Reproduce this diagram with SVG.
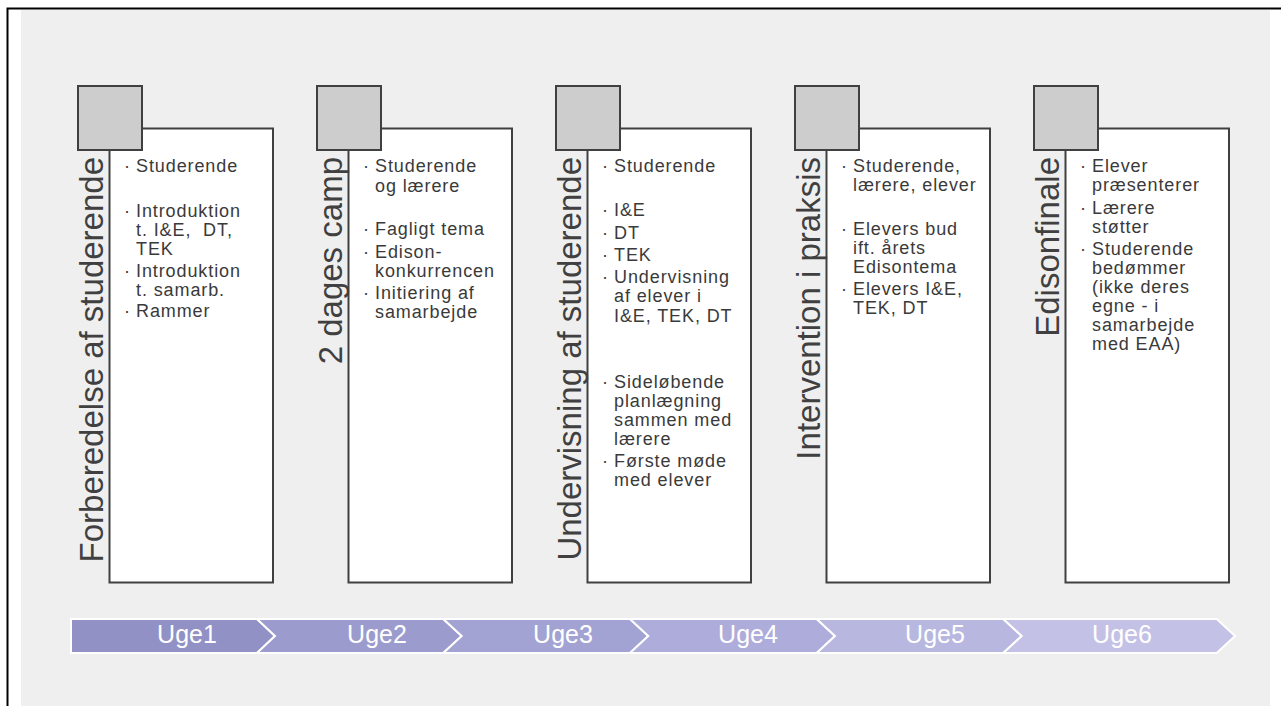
<svg xmlns="http://www.w3.org/2000/svg" width="1281" height="706" viewBox="0 0 1281 706">
<style>
.frame{fill:none;stroke:#000;stroke-width:2}
.sq{fill:#cdcdcd;stroke:#404040;stroke-width:2}
.box{fill:#fff;stroke:#404040;stroke-width:2}
.title{font-family:"Liberation Sans",Arial,sans-serif;font-size:33px;fill:#404040}
.t{font-family:"Liberation Sans",Arial,sans-serif;font-size:18px;letter-spacing:0.9px;fill:#3a3a3a;white-space:pre}
.chev{stroke:#fff;stroke-width:2;stroke-linejoin:miter}
.wk{font-family:"Liberation Sans",Arial,sans-serif;font-size:25px;fill:#fff;text-anchor:middle}
</style>
<rect x="0" y="0" width="1281" height="706" fill="#fff"/>
<rect x="21" y="10" width="1249" height="696" fill="#efefef"/>
<path class="frame" d="M7.5 706 V8.5 H1281"/>

<g id="col1">
<rect class="box" x="109.5" y="128.5" width="163.5" height="454"/>
<rect class="sq" x="78" y="86" width="64" height="64"/>
<text class="title" transform="translate(103,157) rotate(-90)" text-anchor="end">Forberedelse af studerende</text>
<text class="t" x="124" y="172">·</text><text class="t" x="136" y="172">Studerende</text>
<text class="t" x="124" y="217">·</text><text class="t" x="136" y="217">Introduktion</text>
<text class="t" x="136" y="236">t. I&amp;E,  DT,</text>
<text class="t" x="136" y="255">TEK</text>
<text class="t" x="124" y="277">·</text><text class="t" x="136" y="277">Introduktion</text>
<text class="t" x="136" y="295.5">t. samarb.</text>
<text class="t" x="124" y="317">·</text><text class="t" x="136" y="317">Rammer</text>
</g>

<g id="col2" transform="translate(239,0)">
<rect class="box" x="109.5" y="128.5" width="163.5" height="454"/>
<rect class="sq" x="78" y="86" width="64" height="64"/>
<text class="title" transform="translate(103,157) rotate(-90)" text-anchor="end">2 dages camp</text>
<text class="t" x="124" y="172">·</text><text class="t" x="136" y="172">Studerende</text>
<text class="t" x="136" y="191.5">og lærere</text>
<text class="t" x="124" y="235">·</text><text class="t" x="136" y="235">Fagligt tema</text>
<text class="t" x="124" y="257.5">·</text><text class="t" x="136" y="257.5">Edison-</text>
<text class="t" x="136" y="276.5">konkurrencen</text>
<text class="t" x="124" y="299">·</text><text class="t" x="136" y="299">Initiering af</text>
<text class="t" x="136" y="318">samarbejde</text>
</g>

<g id="col3" transform="translate(478,0)">
<rect class="box" x="109.5" y="128.5" width="163.5" height="454"/>
<rect class="sq" x="78" y="86" width="64" height="64"/>
<text class="title" transform="translate(103,157) rotate(-90)" text-anchor="end">Undervisning af studerende</text>
<text class="t" x="124" y="172">·</text><text class="t" x="136" y="172">Studerende</text>
<text class="t" x="124" y="216">·</text><text class="t" x="136" y="216">I&amp;E</text>
<text class="t" x="124" y="239">·</text><text class="t" x="136" y="239">DT</text>
<text class="t" x="124" y="261">·</text><text class="t" x="136" y="261">TEK</text>
<text class="t" x="124" y="283">·</text><text class="t" x="136" y="283">Undervisning</text>
<text class="t" x="136" y="302">af elever i</text>
<text class="t" x="136" y="322">I&amp;E, TEK, DT</text>
<text class="t" x="124" y="388">·</text><text class="t" x="136" y="388">Sideløbende</text>
<text class="t" x="136" y="407">planlægning</text>
<text class="t" x="136" y="426">sammen med</text>
<text class="t" x="136" y="445">lærere</text>
<text class="t" x="124" y="467">·</text><text class="t" x="136" y="467">Første møde</text>
<text class="t" x="136" y="486">med elever</text>
</g>

<g id="col4" transform="translate(717,0)">
<rect class="box" x="109.5" y="128.5" width="163.5" height="454"/>
<rect class="sq" x="78" y="86" width="64" height="64"/>
<text class="title" transform="translate(103,157) rotate(-90)" text-anchor="end">Intervention i praksis</text>
<text class="t" x="124" y="172">·</text><text class="t" x="136" y="172">Studerende,</text>
<text class="t" x="136" y="191">lærere, elever</text>
<text class="t" x="124" y="235">·</text><text class="t" x="136" y="235">Elevers bud</text>
<text class="t" x="136" y="254">ift. årets</text>
<text class="t" x="136" y="273">Edisontema</text>
<text class="t" x="124" y="295">·</text><text class="t" x="136" y="295">Elevers I&amp;E,</text>
<text class="t" x="136" y="314">TEK, DT</text>
</g>

<g id="col5" transform="translate(956,0)">
<rect class="box" x="109.5" y="128.5" width="163.5" height="454"/>
<rect class="sq" x="78" y="86" width="64" height="64"/>
<text class="title" transform="translate(103,157) rotate(-90)" text-anchor="end">Edisonfinale</text>
<text class="t" x="124" y="172">·</text><text class="t" x="136" y="172">Elever</text>
<text class="t" x="136" y="191">præsenterer</text>
<text class="t" x="124" y="213.5">·</text><text class="t" x="136" y="213.5">Lærere</text>
<text class="t" x="136" y="232.5">støtter</text>
<text class="t" x="124" y="255">·</text><text class="t" x="136" y="255">Studerende</text>
<text class="t" x="136" y="274">bedømmer</text>
<text class="t" x="136" y="293">(ikke deres</text>
<text class="t" x="136" y="312">egne - i</text>
<text class="t" x="136" y="331">samarbejde</text>
<text class="t" x="136" y="350">med EAA)</text>
</g>

<g id="timeline">
<g id="uge1"><polygon class="chev" fill="#9291c6" points="71,619 257,619 275,636 257,653 71,653"/><text class="wk" x="187" y="643">Uge1</text></g>
<g id="uge2"><polygon class="chev" fill="#9c9bcd" points="257,619 443.3,619 461.7,636 443.3,653 257,653 275,636"/><text class="wk" x="377" y="643">Uge2</text></g>
<g id="uge3"><polygon class="chev" fill="#a3a3d3" points="443.3,619 630,619 648.3,636 630,653 443.3,653 461.7,636"/><text class="wk" x="563" y="643">Uge3</text></g>
<g id="uge4"><polygon class="chev" fill="#adacda" points="630,619 816.7,619 835,636 816.7,653 630,653 648.3,636"/><text class="wk" x="748" y="643">Uge4</text></g>
<g id="uge5"><polygon class="chev" fill="#b8b7e0" points="816.7,619 1003.3,619 1021.7,636 1003.3,653 816.7,653 835,636"/><text class="wk" x="935" y="643">Uge5</text></g>
<g id="uge6"><polygon class="chev" fill="#c3c2e6" points="1003.3,619 1216.7,619 1235,636 1216.7,653 1003.3,653 1021.7,636"/><text class="wk" x="1122" y="643">Uge6</text></g>
</g>
</svg>
